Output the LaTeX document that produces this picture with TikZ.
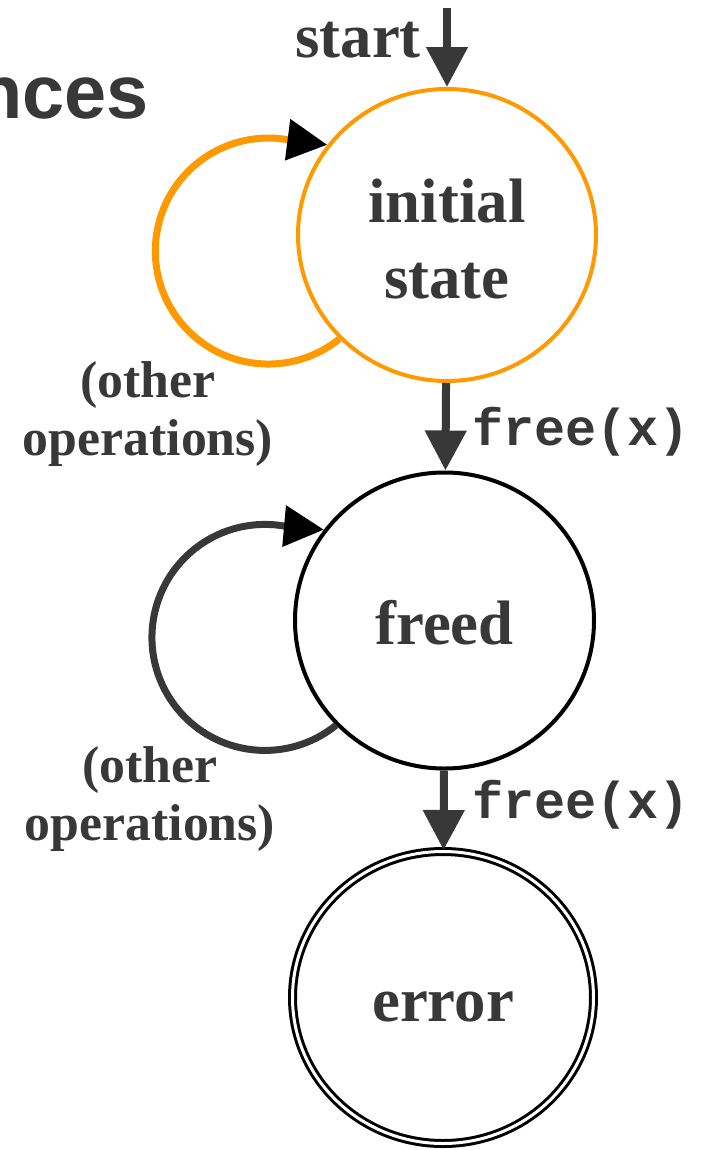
\documentclass[tikz,border=0pt]{standalone}
\usepackage{fontspec}
\setmainfont{Liberation Serif}
\setmonofont{Liberation Mono}
\newfontfamily\titlefont{Liberation Sans}
\usetikzlibrary{arrows.meta,shapes.geometric}
\definecolor{ink}{HTML}{383838}
\definecolor{amber}{HTML}{FF9900}
\begin{document}
\begin{tikzpicture}[x=1bp,y=-1bp,
  state/.style={ellipse, draw, line width=4bp, inner sep=0pt,
    font=\fontsize{63}{76}\selectfont\bfseries, text=ink, align=center,
    text height=50bp, text depth=2bp},
  flow/.style={draw=ink, line width=8bp, -{Triangle[length=40bp,width=40bp,color=ink]}},
  selfloop/.style={line width=7bp, -{Triangle[length=40bp,width=40bp,color=black]}},
  side/.style={font=\fontsize{52}{58}\selectfont\bfseries, text=ink, align=center, inner sep=0pt, anchor=base},
  call/.style={font=\fontsize{52}{52}\selectfont\ttfamily\bfseries, text=ink, inner sep=0pt, anchor=base west}
]
\useasboundingbox (0,0) rectangle (703,1150);
\clip (0,0) rectangle (703,1150);

% heading fragment
\node[anchor=base east, inner sep=0pt, font=\titlefont\bfseries\fontsize{76}{76}\selectfont, text=ink]
  (title) at (149,118) {nces};

% states
\node[state, draw=amber, minimum width=298bp, minimum height=292bp,
  text height=126bp, text depth=0bp] (init) at (447,235) {initial\\state};
\node[state, draw=black, minimum width=299bp, minimum height=296bp] (freed) at (444.5,620.5) {freed};
\node[state, draw=black, double, line width=3bp, double distance=3bp,
  minimum width=301bp, minimum height=292bp] (err) at (443,997.5) {error};

% entry arrow
\coordinate (entry) at (447,8);
\node[anchor=base east, inner sep=0pt, font=\fontsize{63}{63}\selectfont\bfseries, text=ink]
  (startlbl) at (421,57) {start};
\draw[flow] (entry) -- (init);

% transitions
\draw[flow] (init) -- (freed);
\node[call] (f1) at (472,445) {free(x)};
\draw[flow] (freed) -- (err);
\node[call] (f2) at (472,818) {free(x)};

% self loops
\draw[selfloop, draw=amber] (init.224) arc[start angle=51, end angle=280, radius=113] -- (init.143);
\node[side] (o1) at (148,455) {(other\\operations)};
\draw[selfloop, draw=ink] (freed.224) arc[start angle=51, end angle=280, radius=113] -- (freed.143);
\node[side] (o2) at (150,840) {(other\\operations)};
\end{tikzpicture}
\end{document}
